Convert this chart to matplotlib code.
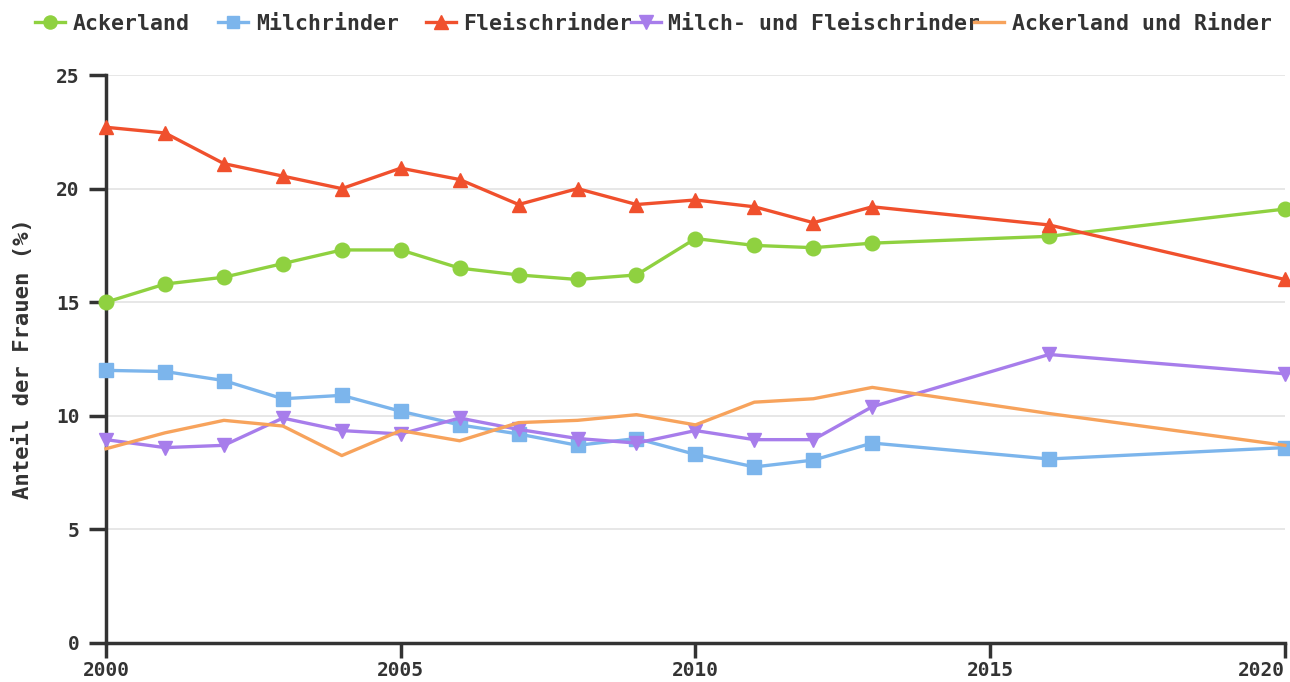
import matplotlib.pyplot as plt

plt.rcParams['font.family'] = 'DejaVu Sans Mono'
plt.rcParams['font.weight'] = 'bold'
plt.rcParams['axes.labelweight'] = 'bold'

years = [2000, 2001, 2002, 2003, 2004, 2005, 2006, 2007, 2008, 2009, 2010, 2011, 2012, 2013, 2016, 2020]
ackerland = [15.0, 15.8, 16.1, 16.7, 17.3, 17.3, 16.5, 16.2, 16.0, 16.2, 17.8, 17.5, 17.4, 17.6, 17.9, 19.1]
milchrinder = [12.0, 11.95, 11.55, 10.75, 10.9, 10.2, 9.6, 9.2, 8.7, 9.0, 8.3, 7.75, 8.05, 8.8, 8.1, 8.6]
fleischrinder = [22.7, 22.45, 21.1, 20.55, 20.0, 20.9, 20.4, 19.3, 20.0, 19.3, 19.5, 19.2, 18.5, 19.2, 18.4, 16.0]
milch_fleisch = [8.95, 8.6, 8.7, 9.9, 9.35, 9.2, 9.9, 9.4, 9.0, 8.8, 9.35, 8.95, 8.95, 10.4, 12.7, 11.85]
acker_rinder = [8.55, 9.25, 9.8, 9.55, 8.25, 9.35, 8.9, 9.7, 9.8, 10.05, 9.6, 10.6, 10.75, 11.25, 10.1, 8.7]

fig = plt.figure(figsize=(12.9, 6.82), dpi=100)
ax = fig.add_axes([0.0822, 0.0572, 0.9138, 0.8328])

lw = 2.4
l1, = ax.plot(years, ackerland, color='#8fd140', lw=lw, marker='o', ms=10.5, label='Ackerland', clip_on=False, zorder=3)
l2, = ax.plot(years, milchrinder, color='#7cb5ec', lw=lw, marker='s', ms=9.5, label='Milchrinder', clip_on=False, zorder=3)
l3, = ax.plot(years, fleischrinder, color='#f0502d', lw=lw, marker='^', ms=10.5, label='Fleischrinder', clip_on=False, zorder=3)
l4, = ax.plot(years, milch_fleisch, color='#a77deb', lw=lw, marker='v', ms=10.5, label='Milch- und Fleischrinder', clip_on=False, zorder=3)
l5, = ax.plot(years, acker_rinder, color='#f7a35c', lw=lw, label='Ackerland und Rinder', clip_on=False, zorder=3)

ax.set_xlim(2000, 2020)
ax.set_ylim(0, 25)
ax.set_xticks([2000, 2005, 2010, 2015, 2020])
ax.set_yticks([0, 5, 10, 15, 20, 25])
ax.grid(axis='y', color='#e3e3e3', lw=1.2)
ax.set_axisbelow(True)
for s in ['top', 'right']:
    ax.spines[s].set_visible(False)
for s in ['left', 'bottom']:
    ax.spines[s].set_linewidth(2.5)
    ax.spines[s].set_color('#333333')
ax.tick_params(width=2.5, color='#333333', labelsize=14, labelcolor='#333333')
ax.tick_params(axis='x', length=11, pad=2)
ax.tick_params(axis='y', length=12, pad=7)
ax.get_xticklabels()[-1].set_horizontalalignment('right')
ax.set_ylabel('Anteil der Frauen (%)', fontsize=16, color='#333333', labelpad=17)

# legend items sit at fixed spots along the top (like the original chart)
legend_x = [0.027, 0.169, 0.330, 0.489, 0.755]
for line, x0 in zip([l1, l2, l3, l4, l5], legend_x):
    fig.legend(handles=[line], loc='center left', bbox_to_anchor=(x0, 0.965), frameon=False,
               fontsize=15.5, handlelength=1.4, handletextpad=0.35, borderaxespad=0,
               borderpad=0, labelcolor='#333333', markerscale=0.9)

fig.savefig('out.png', dpi=100)
